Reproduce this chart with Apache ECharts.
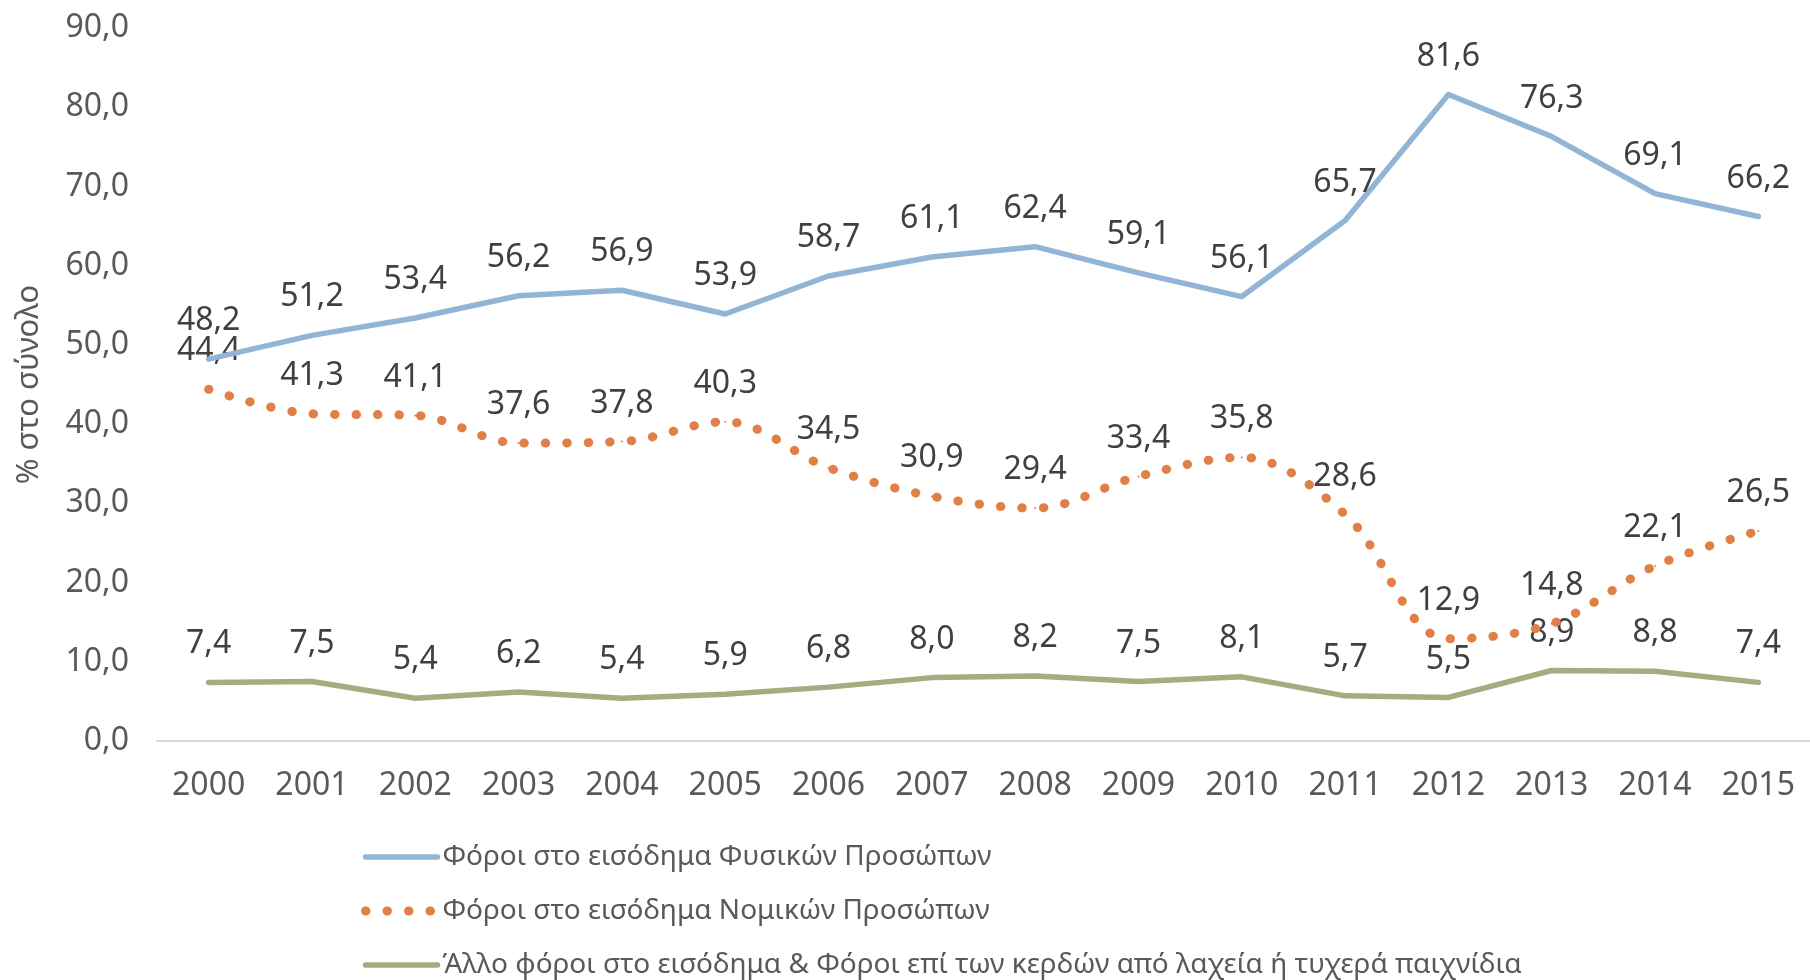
<!DOCTYPE html>
<html>
<head>
<meta charset="utf-8">
<script src="https://cdn.jsdelivr.net/npm/echarts@6/dist/echarts.min.js"></script>
<style>
  html, body { margin: 0; padding: 0; background: #fff; }
  #chart { width: 1810px; height: 980px; }
</style>
</head>
<body>
<div id="chart"></div>
<script>
// categories
var years = ["2000", "2001", "2002", "2003", "2004", "2005", "2006", "2007",
  "2008", "2009", "2010", "2011", "2012", "2013", "2014", "2015"];

// series values (% στο σύνολο)
var fysika = [48.2, 51.2, 53.4, 56.2, 56.9, 53.9, 58.7, 61.1, 62.4, 59.1, 56.1, 65.7, 81.6, 76.3, 69.1, 66.2];
var nomika = [44.4, 41.3, 41.1, 37.6, 37.8, 40.3, 34.5, 30.9, 29.4, 33.4, 35.8, 28.6, 12.9, 14.8, 22.1, 26.5];
var allo = [7.4, 7.5, 5.4, 6.2, 5.4, 5.9, 6.8, 8.0, 8.2, 7.5, 8.1, 5.7, 5.5, 8.9, 8.8, 7.4];

var seriesNames = [
  "Φόροι στο εισόδημα Φυσικών Προσώπων",
  "Φόροι στο εισόδημα Νομικών Προσώπων",
  "Άλλο φόροι στο εισόδημα & Φόροι επί των κερδών από λαχεία ή τυχερά παιχνίδια"
];

var FONT = "Noto Sans";
var BLUE = "#92B5D6";
var ORANGE = "#E08046";
var GREEN = "#A3AD80";

function fmt(v) {
  return Number(v).toFixed(1).replace(".", ",");
}

var myChart = echarts.init(document.getElementById("chart"));

var labelStyle = {
  show: true,
  position: "top",
  distance: 21,
  fontSize: 32,
  fontFamily: FONT,
  color: "#404040",
  formatter: function (p) {
    return fmt(p.value);
  }
};

var solidLine = function (c) {
  return { color: c, width: 5.5, cap: "round", join: "round" };
};
var dotLine = { color: ORANGE, width: 9, type: [0.5, 21], cap: "round" };

var option = {
  animation: false,
  grid: {
    left: 157,
    right: -5,
    top: 28,
    bottom: 239
  },
  legend: {
    orient: "vertical",
    left: 361,
    top: 842,
    padding: 0,
    itemWidth: 72,
    itemHeight: 14,
    itemGap: 24,
    itemStyle: { opacity: 0 },
    textStyle: {
      fontSize: 28,
      fontFamily: FONT,
      color: "#595959",
      lineHeight: 30
    },
    data: [
      { name: seriesNames[0], lineStyle: solidLine(BLUE) },
      { name: seriesNames[1], lineStyle: dotLine },
      { name: seriesNames[2], lineStyle: solidLine(GREEN) }
    ]
  },
  xAxis: {
    type: "category",
    data: years,
    boundaryGap: true,
    axisLine: { lineStyle: { color: "#D9D9D9", width: 2 } },
    axisTick: { show: false },
    axisLabel: {
      fontSize: 32,
      fontFamily: FONT,
      color: "#595959",
      margin: 29
    }
  },
  yAxis: {
    type: "value",
    min: 0,
    max: 90,
    interval: 10,
    name: "% στο σύνολο",
    nameLocation: "middle",
    nameGap: 112,
    nameTextStyle: {
      fontSize: 31,
      fontFamily: FONT,
      color: "#595959"
    },
    axisLine: { show: false },
    axisTick: { show: false },
    splitLine: { show: false },
    axisLabel: {
      fontSize: 32,
      fontFamily: FONT,
      color: "#595959",
      margin: 28,
      formatter: function (v) {
        return fmt(v);
      }
    }
  },
  series: [
    {
      name: seriesNames[0],
      type: "line",
      data: fysika,
      symbol: "circle",
      symbolSize: 2,
      lineStyle: solidLine(BLUE),
      itemStyle: { color: BLUE },
      label: labelStyle,
      z: 3
    },
    {
      name: seriesNames[1],
      type: "line",
      data: nomika,
      smooth: 0.35,
      symbol: "circle",
      symbolSize: 2,
      lineStyle: dotLine,
      itemStyle: { color: ORANGE },
      label: labelStyle,
      z: 2
    },
    {
      name: seriesNames[2],
      type: "line",
      data: allo,
      symbol: "circle",
      symbolSize: 2,
      lineStyle: solidLine(GREEN),
      itemStyle: { color: GREEN },
      label: labelStyle,
      z: 1
    }
  ]
};

myChart.setOption(option);
</script>
</body>
</html>
